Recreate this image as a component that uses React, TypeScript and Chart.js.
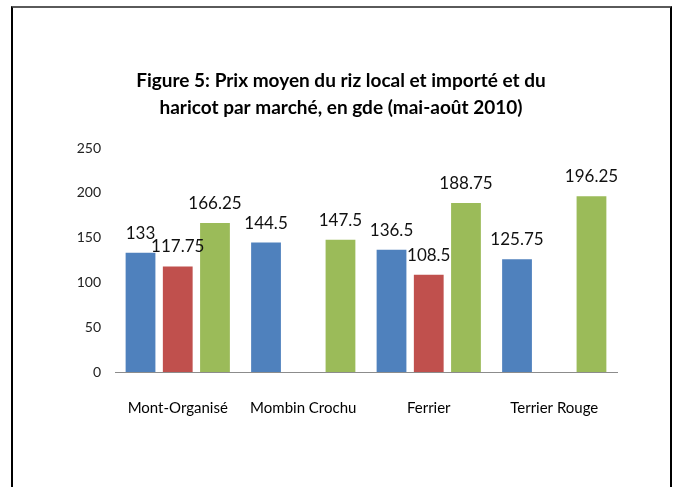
import React, { useEffect, useRef } from "react";
import { Chart, registerables } from "chart.js";

Chart.register(...registerables);

const categories = ["Mont-Organisé", "Mombin Crochu", "Ferrier", "Terrier Rouge"];
const rizLocal = [133, 144.5, 136.5, 125.75];
const rizImporte: (number | null)[] = [117.75, null, 108.5, null];
const haricot = [166.25, 147.5, 188.75, 196.25];
const yTicks = [0, 50, 100, 150, 200, 250];
const titleLines = [
  "Figure 5: Prix moyen du riz local et importé et du",
  "haricot par marché, en gde (mai-août 2010)",
];

const FONT = "Lato, 'DejaVu Sans', sans-serif";

const valueLabels = {
  id: "valueLabels",
  afterDatasetsDraw(chart: any) {
    const ctx = chart.ctx;
    ctx.save();
    ctx.font = `17px ${FONT}`;
    ctx.fillStyle = "#111";
    ctx.textAlign = "center";
    ctx.textBaseline = "alphabetic";
    chart.data.datasets.forEach((ds: any, i: number) => {
      const meta = chart.getDatasetMeta(i);
      meta.data.forEach((bar: any, j: number) => {
        const v = ds.data[j];
        if (v === null || v === undefined) return;
        ctx.fillText(String(v), bar.x, bar.y - 14);
      });
    });
    ctx.restore();
  },
};

export default function App() {
  const ref = useRef<HTMLCanvasElement | null>(null);
  useEffect(() => {
    if (!ref.current) return;
    const chart = new Chart(ref.current, {
      type: "bar",
      data: {
        labels: categories,
        datasets: [
          { label: "Riz local", data: rizLocal, backgroundColor: "#4F81BD" },
          { label: "Riz importé", data: rizImporte, backgroundColor: "#C0504D" },
          { label: "Haricot", data: haricot, backgroundColor: "#9BBB59" },
        ],
      },
      options: {
        animation: false,
        responsive: false,
        maintainAspectRatio: false,
        datasets: { bar: { categoryPercentage: 0.89, barPercentage: 0.8 } },
        layout: { padding: { left: 65, right: 57, top: 0, bottom: 0 } },
        plugins: {
          legend: { display: false },
          tooltip: { enabled: false },
          title: {
            display: true,
            text: titleLines,
            color: "#000",
            font: { family: FONT, size: 19, weight: "bold", lineHeight: "27px" },
            padding: { top: 67, bottom: 27 },
          },
        },
        scales: {
          x: {
            grid: { display: false },
            border: { display: true, color: "#8c8c8c", width: 1 },
            ticks: { color: "#000", font: { family: FONT, size: 15 }, padding: 19, maxRotation: 0 },
            afterFit: (s: any) => { s.height = 115; },
          },
          y: {
            min: 0,
            max: 250,
            grid: { display: false, drawTicks: false },
            border: { display: false },
            afterBuildTicks: (s: any) => { s.ticks = yTicks.map((v) => ({ value: v })); },
            ticks: { color: "#222", font: { family: FONT, size: 14 }, padding: 14 },
            afterFit: (s: any) => { s.width = 50; },
          },
        },
      },
      plugins: [valueLabels],
    });
    return () => chart.destroy();
  }, []);

  return (
    <div style={{ position: "fixed", left: 0, top: 0, width: 674, height: 487, background: "#fff", overflow: "hidden" }}>
      <div
        style={{
          position: "absolute",
          left: 11,
          top: 6,
          width: 661,
          height: 481,
          boxSizing: "border-box",
          borderTop: "2px solid #5a5a5a",
          borderLeft: "2px solid #000",
          borderRight: "2px solid #000",
        }}
      />
      <canvas ref={ref} width={674} height={487} style={{ position: "absolute", left: 0, top: 0 }} />
    </div>
  );
}
